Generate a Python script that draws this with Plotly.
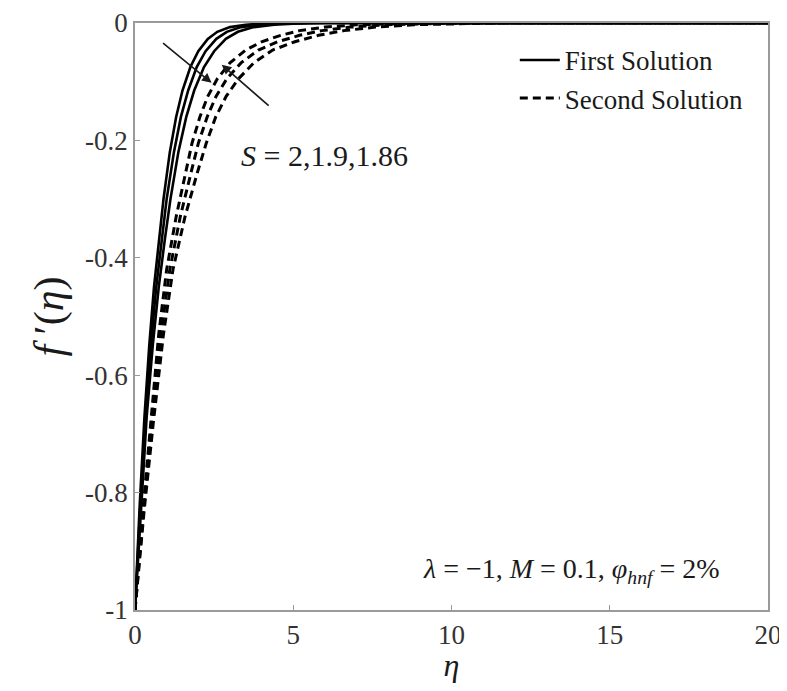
import plotly.graph_objects as go

f_solid = [-1, -0.82, -0.67, -0.55, -0.45, -0.37, -0.3, -0.22, -0.16, -0.115,
           -0.075, -0.048, -0.027, -0.015, -0.007, -0.003, -0.001, 0, 0]
eta_solid = [
    [0, 0.15, 0.3, 0.45, 0.6, 0.75, 0.9, 1.1, 1.3, 1.5, 1.75, 2.0, 2.3, 2.6, 3.0, 3.5, 4.0, 5.0, 20],
    [0, 0.17, 0.34, 0.5, 0.67, 0.84, 1.0, 1.23, 1.45, 1.68, 1.95, 2.23, 2.57, 2.9, 3.35, 3.9, 4.5, 5.5, 20],
    [0, 0.19, 0.37, 0.56, 0.75, 0.94, 1.12, 1.37, 1.62, 1.87, 2.18, 2.5, 2.87, 3.25, 3.75, 4.4, 5.0, 6.0, 20],
]

f_dashed = [-1, -0.83, -0.68, -0.53, -0.42, -0.33, -0.255, -0.205, -0.16, -0.125, -0.095,
            -0.068, -0.046, -0.032, -0.021, -0.013, -0.007, -0.003, -0.001, 0, 0]
eta_dashed = [
    [0, 0.25, 0.5, 0.75, 1.0, 1.3, 1.6, 1.8, 2.05, 2.3, 2.6, 3.0, 3.5, 4.0, 4.6, 5.2, 6.0, 7.0, 8.5, 10, 20],
    [0, 0.27, 0.54, 0.82, 1.1, 1.43, 1.77, 2.0, 2.28, 2.56, 2.9, 3.35, 3.9, 4.5, 5.2, 5.9, 6.8, 7.9, 9.5, 11, 20],
    [0, 0.29, 0.58, 0.9, 1.2, 1.58, 1.97, 2.25, 2.55, 2.88, 3.27, 3.75, 4.35, 5.05, 5.8, 6.6, 7.6, 8.8, 10.5, 12, 20],
]

y_ticks = [0, -0.2, -0.4, -0.6, -0.8, -1]
y_labels = ["0", "-0.2", "-0.4", "-0.6", "-0.8", "-1"]
x_ticks = [0, 5, 10, 15, 20]

font = "Liberation Serif, Times New Roman, serif"
ink = "#1a1a1a"

fig = go.Figure()

for i, eta in enumerate(eta_solid):
    fig.add_trace(go.Scatter(
        x=eta, y=f_solid, mode="lines", name="First Solution",
        showlegend=(i == 0), line={"color": "black", "width": 2.6},
    ))
for i, eta in enumerate(eta_dashed):
    fig.add_trace(go.Scatter(
        x=eta, y=f_dashed, mode="lines", name="Second Solution",
        showlegend=(i == 0), line={"color": "black", "width": 3, "dash": "8px,5px"},
    ))

# arrows marking the S direction
fig.add_annotation(x=2.42, y=-0.102, ax=0.84, ay=-0.032, xref="x", yref="y",
                   axref="x", ayref="y", showarrow=True, arrowhead=2,
                   arrowsize=1.2, arrowwidth=1.6, arrowcolor=ink, text="")
fig.add_annotation(x=2.74, y=-0.071, ax=4.27, ay=-0.143, xref="x", yref="y",
                   axref="x", ayref="y", showarrow=True, arrowhead=2,
                   arrowsize=1.2, arrowwidth=1.6, arrowcolor=ink, text="")

fig.add_annotation(x=6.0, y=-0.225, text="<i>S</i> = 2,1.9,1.86", showarrow=False,
                   font={"family": font, "size": 30, "color": ink})
fig.add_annotation(x=0.928, y=0.068, xref="paper", yref="paper", xanchor="right",
                   yanchor="middle", showarrow=False,
                   text="<i>λ</i> = −1, <i>M</i> = 0.1, <i>φ</i><sub><i>hnf</i></sub> = 2%",
                   font={"family": font, "size": 28, "color": ink})

axis_common = {
    "showgrid": False, "zeroline": False, "showline": True, "mirror": True,
    "automargin": False,
    "linecolor": "#9a9a9a", "linewidth": 1.5, "ticks": "inside", "ticklen": 5,
    "tickcolor": "#9a9a9a", "tickfont": {"family": font, "size": 27, "color": "#333333"},
}

# page body adds an 8px offset, so the figure is sized to fit the window
fig.update_layout(
    width=779, height=675,
    margin={"l": 127, "r": 19, "t": 15, "b": 73},
    plot_bgcolor="white", paper_bgcolor="white",
    xaxis={**axis_common, "range": [0, 20], "tickvals": x_ticks,
           "title": {"text": "<i>η</i>", "font": {"family": font, "size": 32, "color": ink},
                     "standoff": 4}},
    yaxis={**axis_common, "range": [-1, 0], "tickvals": y_ticks, "ticktext": y_labels,
           "title": {"text": "<i>f</i> ′(<i>η</i>)", "font": {"family": font, "size": 42, "color": ink},
                     "standoff": 8}},
    legend={"x": 0.6, "y": 0.978, "xanchor": "left", "yanchor": "top",
            "bgcolor": "rgba(0,0,0,0)", "font": {"family": font, "size": 27, "color": ink},
            "tracegroupgap": 0, "itemwidth": 40},
    showlegend=True,
)

fig.write_html("out.html")
